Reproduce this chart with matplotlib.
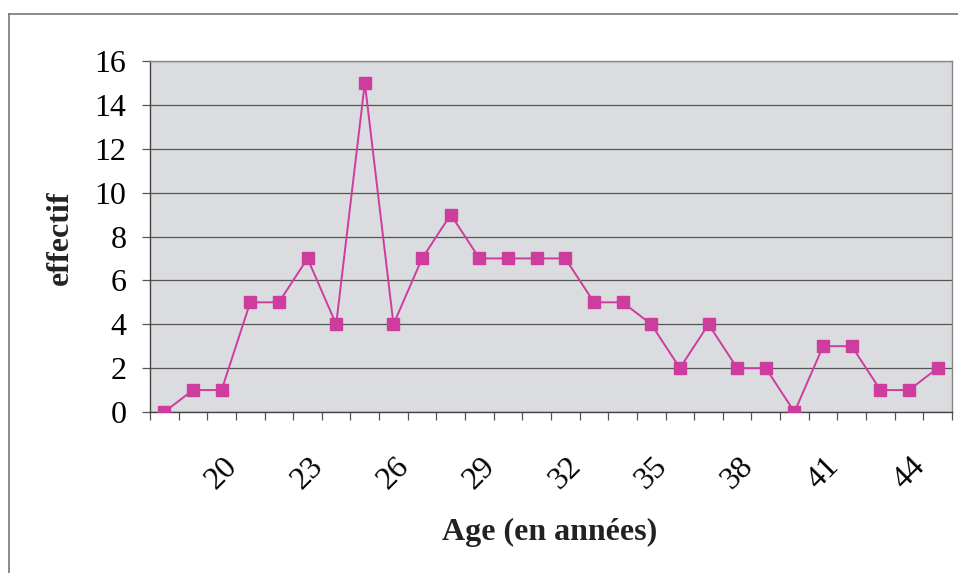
import matplotlib
matplotlib.use("Agg")
import matplotlib.pyplot as plt
from matplotlib.lines import Line2D

ages = list(range(18, 46))
effectif = [0, 1, 1, 5, 5, 7, 4, 15, 4, 7, 9, 7, 7, 7, 7, 5, 5, 4, 2, 4, 2, 2, 0, 3, 3, 1, 1, 2]
xtick_labels = [20, 23, 26, 29, 32, 35, 38, 41, 44]
yticks = [0, 2, 4, 6, 8, 10, 12, 14, 16]

plt.rcParams['font.family'] = ['Liberation Serif', 'DejaVu Serif']

W, H = 958, 573
fig = plt.figure(figsize=(W / 100, H / 100), dpi=100)
ax = fig.add_axes([150 / W, 1 - 412 / H, (952 - 150) / W, (412 - 61) / H])

ax.set_facecolor('#dadcdf')
color = '#cc3d9e'
ax.plot(ages, effectif, color=color, lw=1.4, marker='s', ms=8,
        markerfacecolor=color, markeredgecolor=color, zorder=3)

ax.set_xlim(ages[0] - 0.5, ages[-1] + 0.5)
ax.set_ylim(0, 16)
ax.set_yticks(yticks)
ax.set_yticklabels([str(v) for v in yticks], fontsize=23)
ax.yaxis.grid(True, color='#555555', lw=0.9)
ax.set_axisbelow(True)
ax.tick_params(axis='y', length=6, width=0.9, color='#555555', pad=11)

ax.set_xticks(xtick_labels)
ax.set_xticklabels([str(v) for v in xtick_labels], fontsize=23)
ax.set_xticks([a - 0.5 for a in ages] + [ages[-1] + 0.5], minor=True)
ax.tick_params(axis='x', which='major', length=0, pad=44)
ax.tick_params(axis='x', which='minor', length=6, width=0.9, color='#555555')
for lab in ax.get_xticklabels():
    lab.set_rotation(45)
    lab.set_rotation_mode('anchor')
    lab.set_ha('center')
    lab.set_va('center')

for s in ['left', 'bottom']:
    ax.spines[s].set_color('#444444')
    ax.spines[s].set_linewidth(1.0)
for s in ['top', 'right']:
    ax.spines[s].set_color('#888888')
    ax.spines[s].set_linewidth(1.0)

fig.text(550 / W, 1 - 532 / H, 'Age (en années)', fontsize=23, fontweight='bold',
         ha='center', va='center', color='#222222')
fig.text(60 / W, 1 - 238 / H, 'effectif', fontsize=23, fontweight='bold',
         ha='center', va='center', rotation=90, color='#222222')

# outer chart frame
fig.add_artist(Line2D([9 / W, 9 / W], [0, 1 - 14 / H], transform=fig.transFigure,
                      color='#777777', lw=1.2))
fig.add_artist(Line2D([9 / W, 1], [1 - 14 / H, 1 - 14 / H], transform=fig.transFigure,
                      color='#777777', lw=1.2))

fig.savefig('out.png', dpi=100)
